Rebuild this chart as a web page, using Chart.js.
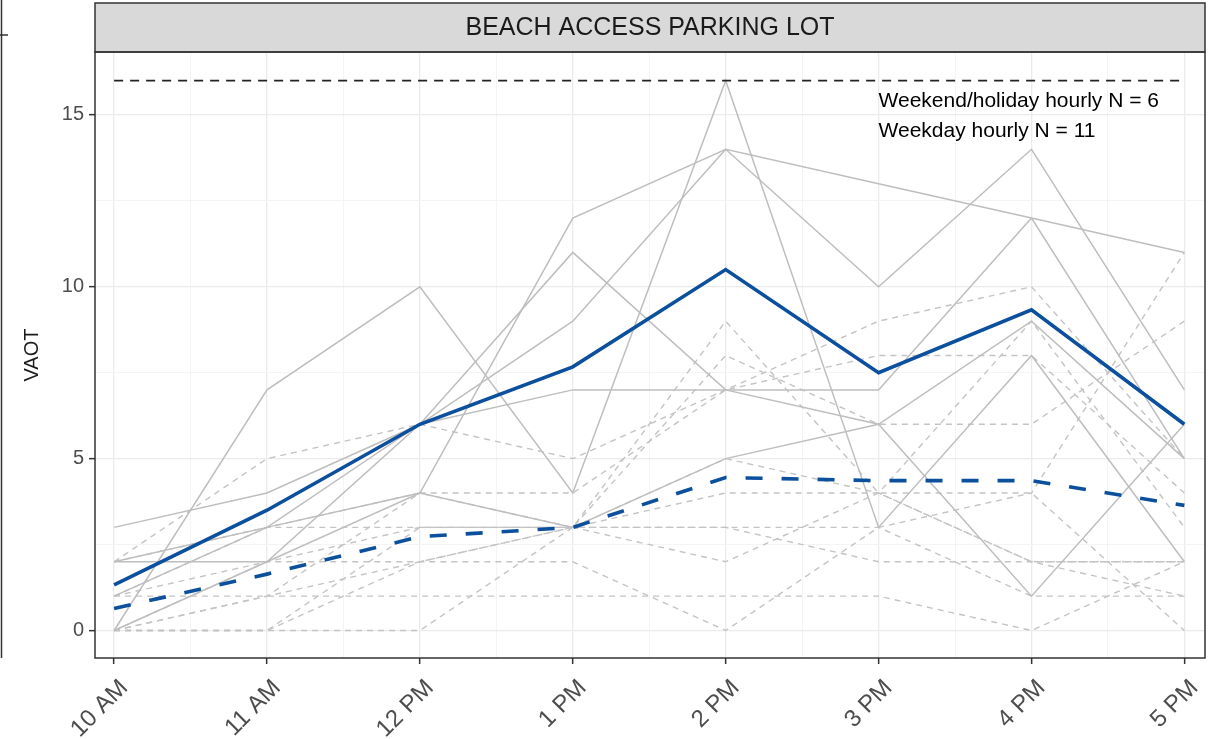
<!DOCTYPE html>
<html>
<head>
<meta charset="utf-8">
<title>Beach access parking lot VAOT</title>
<script src="https://cdn.jsdelivr.net/npm/chart.js@4.4.1/dist/chart.umd.min.js"></script>
<style>
  html, body { margin: 0; padding: 0; background: #fff; overflow: hidden; }
  #wrap { width: 1222px; height: 739px; }
</style>
</head>
<body>
<div id="wrap"><canvas id="myChart" width="1222" height="739"></canvas></div>
<script>
// hours of the day (x axis)
var hours = ['10 AM', '11 AM', '12 PM', '1 PM', '2 PM', '3 PM', '4 PM', '5 PM'];

// weekend / holiday days, one array per day
var weekend1 = [3, 4, 6, 9, 14, 13, 12, 11];
var weekend2 = [0, 7, 10, 4, 16, 3, 8, 2];
var weekend3 = [1, 3, 6, 11, 7, 6, 1, 6];
var weekend4 = [2, 2, 6, 7, 7, 7, 12, 5];
var weekend5 = [2, 3, 4, 12, 14, 10, 14, 7];
var weekend6 = [0, 2, 4, 3, 5, 6, 9, 5];

// weekdays, one array per day
var weekday1 = [0, 0, 0, 3, 9, 4, 4, 0];
var weekday2 = [2, 5, 6, 5, 7, 9, 10, 5];
var weekday3 = [1, 3, 4, 3, 8, 6, 6, 9];
var weekday4 = [0, 2, 3, 3, 3, 2, 2, 2];
var weekday5 = [1, 1, 1, 1, 1, 1, 0, 2];
var weekday6 = [0, 0, 2, 2, 0, 3, 4, 11];
var weekday7 = [2, 3, 3, 3, 2, 4, 9, 3];
var weekday8 = [0, 1, 4, 4, 7, 8, 8, 4];
var weekday9 = [1, 2, 2, 3, 4, 4, 2, 2];
var weekday10 = [0, 1, 2, 3, 5, 4, 2, 1];
var weekday11 = [0, 0, 3, 3, 3, 3, 1, 1];

// hourly averages
var weekendMean = [1.33, 3.5, 6, 7.67, 10.5, 7.5, 9.33, 6];
var weekdayMean = [0.64, 1.64, 2.73, 3, 4.45, 4.36, 4.36, 3.64];

// lot capacity (black dashed line)
var capacity = 16;

var yTicks = [0, 2.5, 5, 7.5, 10, 12.5, 15];
var xTicks = [0, 0.5, 1, 1.5, 2, 2.5, 3, 3.5, 4, 4.5, 5, 5.5, 6, 6.5, 7];

var panelTitle = 'BEACH ACCESS PARKING LOT';
var noteLines = ['Weekend/holiday hourly N = 6', 'Weekday hourly N = 11'];

var weekendDays = [weekend1, weekend2, weekend3, weekend4, weekend5, weekend6];
var weekdayDays = [weekday1, weekday2, weekday3, weekday4, weekday5, weekday6,
                   weekday7, weekday8, weekday9, weekday10, weekday11];

function toPoints(arr) {
    return arr.map(function(v, i) { return { x: i, y: v }; });
}

var datasets = [];
datasets.push({
    label: 'Weekend/holiday mean', data: toPoints(weekendMean),
    borderColor: '#0b4f9d', borderWidth: 3.6, order: 0
});
datasets.push({
    label: 'Weekday mean', data: toPoints(weekdayMean),
    borderColor: '#0b4f9d', borderWidth: 3.6, borderDash: [17, 19], order: 1
});
datasets.push({
    label: 'Capacity', data: toPoints(hours.map(function() { return capacity; })),
    borderColor: '#222', borderWidth: 1.8, borderDash: [9, 7], order: 2
});
weekendDays.forEach(function(d, i) {
    datasets.push({
        label: 'Weekend ' + (i + 1), data: toPoints(d),
        borderColor: '#bebebe', borderWidth: 1.5, order: 3
    });
});
weekdayDays.forEach(function(d, i) {
    datasets.push({
        label: 'Weekday ' + (i + 1), data: toPoints(d),
        borderColor: '#c4c4c4', borderWidth: 1.4, borderDash: [6, 5], order: 4
    });
});

var panelDecor = {
    id: 'panelDecor',
    beforeDraw: function(chart) {
        var c = chart.ctx;
        c.save();
        c.fillStyle = '#fff';
        c.fillRect(0, 0, chart.width, chart.height);
        c.restore();
    },
    afterDraw: function(chart) {
        var c = chart.ctx, a = chart.chartArea;
        c.save();
        // strip
        c.fillStyle = '#d9d9d9';
        c.fillRect(a.left, 3, a.right - a.left, a.top - 3);
        c.strokeStyle = '#333';
        c.lineWidth = 1.5;
        c.strokeRect(a.left, 3, a.right - a.left, a.top - 3);
        c.fillStyle = '#1a1a1a';
        c.font = '25px "Liberation Sans", Arial, sans-serif';
        c.textAlign = 'center';
        c.textBaseline = 'middle';
        c.fillText(panelTitle, (a.left + a.right) / 2, (a.top + 3) / 2 + 1);
        // panel border
        c.strokeRect(a.left, a.top, a.right - a.left, a.bottom - a.top);
        // edge of the neighbouring panel
        c.beginPath();
        c.moveTo(1.5, 0); c.lineTo(1.5, a.bottom);
        c.moveTo(0, 35); c.lineTo(8, 35);
        c.stroke();
        // N notes
        c.fillStyle = '#000';
        c.font = '21px "Liberation Sans", Arial, sans-serif';
        c.textAlign = 'left';
        c.fillText(noteLines[0], chart.scales.x.getPixelForValue(5), 101);
        c.fillText(noteLines[1], chart.scales.x.getPixelForValue(5), 131);
        c.restore();
    }
};

var ctx = document.getElementById('myChart').getContext('2d');
var myChart = new Chart(ctx, {
    type: 'line',
    data: { datasets: datasets },
    plugins: [panelDecor],
    options: {
        responsive: false,
        animation: false,
        layout: { padding: { top: 52, right: 17, left: 0, bottom: 0 } },
        elements: { point: { radius: 0 }, line: { tension: 0, borderCapStyle: 'butt' } },
        plugins: { legend: { display: false }, tooltip: { enabled: false } },
        scales: {
            x: {
                type: 'linear',
                min: -0.125,
                max: 7.135,
                afterBuildTicks: function(s) { s.ticks = xTicks.map(function(v) { return { value: v }; }); },
                afterFit: function(s) { s.height = 81; },
                border: { display: false },
                grid: {
                    color: function(c) { return Number.isInteger(c.tick.value) ? '#ebebeb' : '#f4f4f4'; },
                    lineWidth: function(c) { return Number.isInteger(c.tick.value) ? 1.3 : 1; },
                    tickColor: function(c) { return Number.isInteger(c.tick.value) ? '#333' : 'rgba(0,0,0,0)'; },
                    tickLength: 6,
                    tickWidth: 1.5
                },
                ticks: {
                    autoSkip: false,
                    minRotation: 45,
                    maxRotation: 45,
                    padding: 10,
                    labelOffset: 10,
                    color: '#4d4d4d',
                    font: { family: '"Liberation Sans", Arial, sans-serif', size: 24 },
                    callback: function(v) { return Number.isInteger(v) ? hours[v] : ''; }
                }
            },
            y: {
                type: 'linear',
                min: -0.8,
                max: 16.83,
                afterBuildTicks: function(s) { s.ticks = yTicks.map(function(v) { return { value: v }; }); },
                afterFit: function(s) { s.width = 95; },
                border: { display: false },
                grid: {
                    color: function(c) { return c.tick.value % 5 === 0 ? '#ebebeb' : '#f4f4f4'; },
                    lineWidth: function(c) { return c.tick.value % 5 === 0 ? 1.3 : 1; },
                    tickColor: function(c) { return c.tick.value % 5 === 0 ? '#333' : 'rgba(0,0,0,0)'; },
                    tickLength: 6,
                    tickWidth: 1.5
                },
                ticks: {
                    padding: 5,
                    color: '#4d4d4d',
                    font: { family: '"Liberation Sans", Arial, sans-serif', size: 20 },
                    callback: function(v) { return v % 5 === 0 ? String(v) : ''; }
                },
                title: {
                    display: true,
                    text: 'VAOT',
                    color: '#1a1a1a',
                    font: { family: '"Liberation Sans", Arial, sans-serif', size: 20 },
                    padding: { top: 20, bottom: 0 }
                }
            }
        }
    }
});
</script>
</body>
</html>
